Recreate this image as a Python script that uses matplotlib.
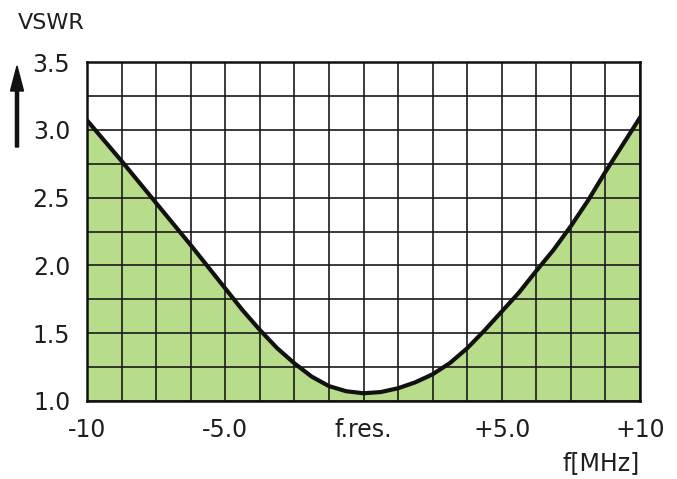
import numpy as np
import matplotlib.pyplot as plt
from matplotlib.patches import FancyArrow

# frequency offset from resonance [MHz] and VSWR
freq = [-10, -8.75, -7.5, -6.25, -5.0, -4.375, -3.75, -3.125, -2.5, -1.875, -1.25, -0.625,
        0, 0.625, 1.25, 1.875, 2.5, 3.125, 3.75, 4.375, 5.0, 5.625, 6.25, 6.875, 7.5, 8.125, 8.75, 10]
vswr = [3.07, 2.77, 2.46, 2.15, 1.83, 1.67, 1.524, 1.39, 1.278, 1.18, 1.11, 1.072,
        1.057, 1.066, 1.094, 1.138, 1.197, 1.28, 1.389, 1.52, 1.66, 1.80, 1.96, 2.115, 2.29, 2.48, 2.69, 3.09]

xtick_pos = [-10, -5, 0, 5, 10]
xtick_lbl = ["-10", "-5.0", "f.res.", "+5.0", "+10"]
ytick_pos = [1.0, 1.5, 2.0, 2.5, 3.0, 3.5]
ytick_lbl = ["1.0", "1.5", "2.0", "2.5", "3.0", "3.5"]

txt = "#1e1e1e"
green = "#b7dc8a"

fig = plt.figure(figsize=(6.77, 4.79), dpi=100)
ax = fig.add_axes([87 / 677, 1 - 401 / 479, 553 / 677, 339 / 479])

ax.fill_between(freq, 1.0, vswr, color=green, lw=0, zorder=1)

# grid drawn over the green fill
for gx in np.arange(-10, 10.01, 1.25):
    ax.axvline(gx, color="#1a1a1a", lw=1.2, zorder=2)
for gy in np.arange(1.0, 3.51, 0.25):
    ax.axhline(gy, color="#1a1a1a", lw=1.2, zorder=2)

ax.plot(freq, vswr, color="#111111", lw=3.0, zorder=3, solid_joinstyle="round")

ax.set_xlim(-10, 10)
ax.set_ylim(1.0, 3.5)
for s in ax.spines.values():
    s.set_linewidth(1.8)
    s.set_color("#111111")
    s.set_zorder(4)

ax.set_xticks(xtick_pos)
ax.set_xticklabels(xtick_lbl)
ax.set_yticks(ytick_pos)
ax.set_yticklabels(ytick_lbl)
ax.tick_params(length=0, labelsize=17, labelcolor=txt)
ax.tick_params(axis="y", pad=12)
ax.tick_params(axis="x", pad=12)

fig.text(18 / 677, 1 - 23 / 479, "VSWR", fontsize=16, color=txt, ha="left", va="center")
fig.text(640 / 677, 1 - 463 / 479, "f[MHz]", fontsize=17, color=txt, ha="right", va="center")

fig.patches.append(FancyArrow(
    17 / 677, 1 - 147 / 479, 0, (147 - 66) / 479, width=2.2 / 479,
    head_width=13 / 677, head_length=25 / 479, length_includes_head=True,
    color="#111111", transform=fig.transFigure, figure=fig))

fig.savefig("out.png", dpi=100)
